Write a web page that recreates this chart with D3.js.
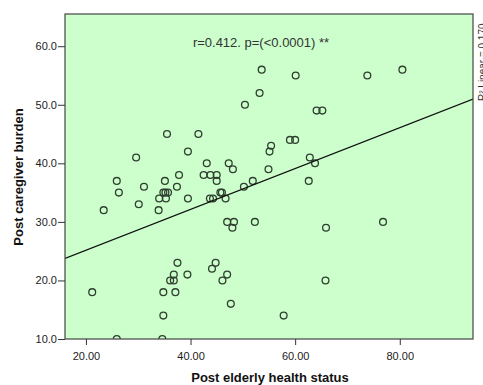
<!DOCTYPE html>
<html>
<head>
<meta charset="utf-8">
<script src="https://cdn.jsdelivr.net/npm/d3@7"></script>
<style>
  body { margin: 0; background: #fff; }
  text { font-family: "Liberation Sans", Arial, sans-serif; }
</style>
</head>
<body>
<script>
let width = 483
let height = 385
let margin = {top: 14, right: 10, bottom: 46, left: 65}

// elderly health status (x) vs caregiver burden (y)
let healthStatus = [53.6, 60.1, 80.5, 73.8, 53.2, 50.4, 64.1, 65.2, 35.5, 41.5,
    59.0, 60.0, 55.4, 55.1, 39.5, 29.6, 62.8, 63.8, 43.1, 47.3,
    48.1, 54.9, 37.8, 42.5, 43.8, 45.0, 51.9, 62.6, 25.9, 35.1,
    45.0, 31.1, 37.4, 50.2, 26.3, 34.8, 35.2, 35.7, 45.7, 46.0,
    34.0, 35.3, 39.5, 43.7, 44.3, 46.7, 30.1, 23.4, 33.9, 47.0,
    48.3, 52.3, 76.8, 48.0, 65.9, 37.5, 44.8, 44.1, 36.8, 39.4,
    47.0, 36.1, 36.8, 46.1, 65.8, 21.2, 34.8, 37.1, 47.7, 34.8,
    57.8, 25.9, 34.6]
let caregiverBurden = [56, 55, 56, 55, 52, 50, 49, 49, 45, 45,
    44, 44, 43, 42, 42, 41, 41, 40, 40, 40,
    39, 39, 38, 38, 38, 38, 37, 37, 37, 37,
    37, 36, 36, 36, 35, 35, 35, 35, 35, 35,
    34, 34, 34, 34, 34, 34, 33, 32, 32, 30,
    30, 30, 30, 29, 29, 23, 23, 22, 21, 21,
    21, 20, 20, 20, 20, 18, 18, 18, 16, 14,
    14, 10, 10]

let xTicks = [20, 40, 60, 80]
let yTicks = [10, 20, 30, 40, 50, 60]
let fitIntercept = 18.16
let fitSlope = 0.349
let statText = "r=0.412. p=(<0.0001) **"
let r2Text = "R² Linear = 0.170"

let svg = d3.select("body")
    .append("svg")
    .attr("width", width)
    .attr("height", height)

let x = d3.scaleLinear()
    .domain([16, 94])
    .range([margin.left, width - margin.right])
let y = d3.scaleLinear()
    .domain([10, 65.5])
    .range([height - margin.bottom, margin.top])

svg.append("clipPath")
    .attr("id", "plotclip")
    .append("rect")
    .attr("x", margin.left)
    .attr("y", margin.top)
    .attr("width", width - margin.left - margin.right)
    .attr("height", height - margin.top - margin.bottom)

svg.append("rect")
    .attr("x", margin.left)
    .attr("y", margin.top)
    .attr("width", width - margin.left - margin.right)
    .attr("height", height - margin.top - margin.bottom)
    .attr("fill", "#ccffcc")

let plot = svg.append("g").attr("clip-path", "url(#plotclip)")

let points = d3.range(healthStatus.length)
plot.selectAll("circle")
    .data(points)
    .enter()
    .append("circle")
    .attr("cx", i => x(healthStatus[i]))
    .attr("cy", i => y(caregiverBurden[i]))
    .attr("r", 3.4)
    .attr("fill", "none")
    .attr("stroke", "#2f3f2f")
    .attr("stroke-width", 1.3)

let xd = x.domain()
plot.append("line")
    .attr("x1", x(xd[0]))
    .attr("y1", y(fitIntercept + fitSlope * xd[0]))
    .attr("x2", x(xd[1]))
    .attr("y2", y(fitIntercept + fitSlope * xd[1]))
    .attr("stroke", "#111")
    .attr("stroke-width", 1.3)

// frame
svg.append("rect")
    .attr("x", margin.left)
    .attr("y", margin.top)
    .attr("width", width - margin.left - margin.right)
    .attr("height", height - margin.top - margin.bottom)
    .attr("fill", "none")
    .attr("stroke", "#444")
    .attr("stroke-width", 1.2)

let xAxis = svg.append("g")
    .attr("transform", `translate(0,${height - margin.bottom})`)
    .call(d3.axisBottom(x).tickValues(xTicks).tickSize(6).tickFormat(d3.format(".2f")))
let yAxis = svg.append("g")
    .attr("transform", `translate(${margin.left},0)`)
    .call(d3.axisLeft(y).tickValues(yTicks).tickSize(7).tickFormat(d3.format(".1f")))

for (let ax of [xAxis, yAxis]) {
    ax.select(".domain").remove()
    ax.selectAll("line").attr("stroke", "#333")
    ax.selectAll("text")
        .attr("fill", "#222")
        .style("font-size", "11px")
        .style("font-family", "'Liberation Sans', Arial, sans-serif")
}
xAxis.selectAll("text").attr("dy", "1.05em")
yAxis.selectAll("text").attr("x", -8)

svg.append("text")
    .attr("x", 261)
    .attr("y", 47)
    .attr("text-anchor", "middle")
    .attr("fill", "#333")
    .style("font-size", "13px")
    .text(statText)

svg.append("text")
    .attr("transform", "translate(486,101) rotate(-90)")
    .attr("fill", "#333")
    .style("font-size", "10px")
    .text(r2Text)

svg.append("text")
    .attr("x", 270)
    .attr("y", 382)
    .attr("text-anchor", "middle")
    .attr("fill", "#111")
    .style("font-size", "13px")
    .style("font-weight", "bold")
    .text("Post elderly health status")

svg.append("text")
    .attr("transform", "translate(23,177) rotate(-90)")
    .attr("text-anchor", "middle")
    .attr("fill", "#111")
    .style("font-size", "13px")
    .style("font-weight", "bold")
    .text("Post caregiver burden")
</script>
</body>
</html>
